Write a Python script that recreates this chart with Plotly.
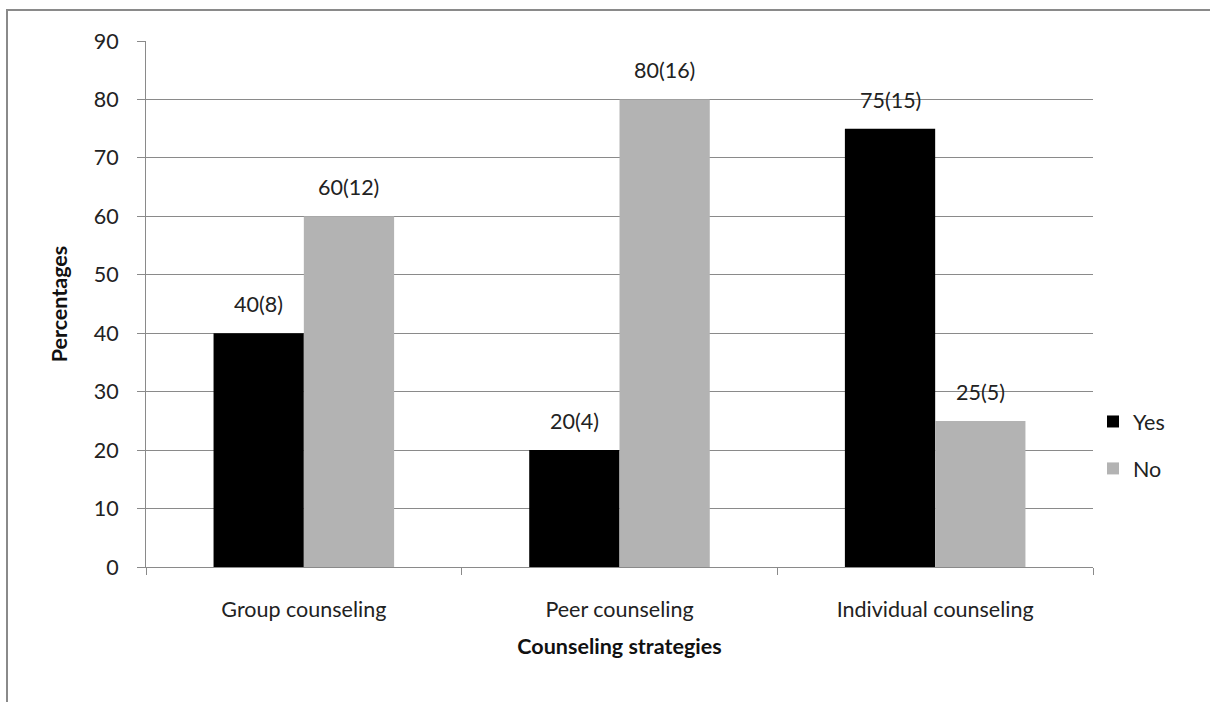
import plotly.graph_objects as go

categories = ["Group counseling", "Peer counseling", "Individual counseling"]
yes_pct = [40, 20, 75]
yes_n = [8, 4, 15]
no_pct = [60, 80, 25]
no_n = [12, 16, 5]
y_ticks = [0, 10, 20, 30, 40, 50, 60, 70, 80, 90]

W, H = 1210, 702
ML, MR, MT, MB = 146, 117, 41, 135
FONT = "Lato"
FS = 21.5
BARGAP = 0.428

fig = go.Figure()
fig.add_trace(go.Bar(x=categories, y=yes_pct, name="Yes", marker_color="#000000",
                     marker_line_width=0, legendgroup="a"))
fig.add_trace(go.Bar(x=categories, y=no_pct, name="No", marker_color="#b3b3b3",
                     marker_line_width=0, legendgroup="b"))

# value labels centred above each bar: percentage (count)
half_bar = (1 - BARGAP) / 4
annotations = []
for i, c in enumerate(categories):
    for pct, n, off in ((yes_pct[i], yes_n[i], -half_bar), (no_pct[i], no_n[i], half_bar)):
        annotations.append(dict(
            x=i + off, y=pct, xref="x", yref="y", text=f"{pct}({n})",
            showarrow=False, yanchor="bottom", yshift=14,
            font=dict(family=FONT, size=FS, color="#222222")))

pw = W - ML - MR
ph = H - MT - MB
fig.update_layout(
    width=W, height=H,
    margin=dict(l=ML, r=MR, t=MT, b=MB),
    paper_bgcolor="white", plot_bgcolor="white",
    barmode="group", bargap=BARGAP, bargroupgap=0,
    font=dict(family=FONT, size=FS, color="#222222"),
    showlegend=True,
    legend=dict(x=(1093 - ML) / pw, y=(567 - 445) / ph, xanchor="left", yanchor="middle",
                traceorder="grouped", tracegroupgap=16,
                font=dict(family=FONT, size=FS, color="#222222"),
                itemwidth=30),
    annotations=annotations,
    shapes=[dict(type="rect", xref="paper", yref="paper",
                 x0=(7 - ML) / pw, x1=(1220 - ML) / pw,
                 y0=(567 - 720) / ph, y1=(567 - 10) / ph,
                 line=dict(color="#8a8a8a", width=2), fillcolor="rgba(0,0,0,0)",
                 layer="below")],
)
fig.update_xaxes(
    type="category", range=[-0.5, 2.5],
    showline=True, linecolor="#8a8a8a", linewidth=1,
    ticks="outside", tickson="boundaries", ticklen=7, tickcolor="#8a8a8a",
    ticklabelstandoff=23,
    showgrid=False,
    tickfont=dict(family=FONT, size=FS, color="#222222"),
    title=dict(text="<b>Counseling strategies</b>", standoff=18,
               font=dict(family=FONT, size=FS, color="#111111")),
)
fig.update_yaxes(
    range=[0, 90], tickvals=y_ticks,
    showline=True, linecolor="#8a8a8a", linewidth=1,
    ticks="outside", ticklen=8, tickcolor="#8a8a8a",
    ticklabelstandoff=14,
    showgrid=True, gridcolor="#8a8a8a", gridwidth=1,
    zeroline=False,
    tickfont=dict(family=FONT, size=FS, color="#222222"),
    title=dict(text="<b>Percentages</b>", standoff=20,
               font=dict(family=FONT, size=FS, color="#111111")),
)

fig.write_html("out.html")
